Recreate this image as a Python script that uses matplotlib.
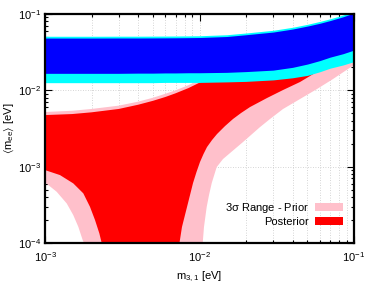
import matplotlib
matplotlib.use('Agg')
import matplotlib.pyplot as plt
from matplotlib.patches import Patch

plt.rcParams['font.family'] = ['Liberation Sans', 'DejaVu Sans']
plt.rcParams['mathtext.default'] = 'regular'

# lightest mass grid [eV]
m_grid = [1e-3, 1.5e-3, 2e-3, 3e-3, 4e-3, 5e-3, 6e-3, 7e-3, 8.5e-3, 1e-2,
          1.5e-2, 2e-2, 3e-2, 4e-2, 5e-2, 6e-2, 7e-2, 8.5e-2, 1e-1]

# inverted ordering bands
io_prior_top = [0.0511, 0.0511, 0.0511, 0.0512, 0.0512, 0.0513, 0.0514, 0.0515, 0.0517, 0.0519,
                0.0535, 0.0564, 0.0612, 0.067, 0.0733, 0.0799, 0.0865, 0.097, 0.109]
io_prior_bottom = [0.0126, 0.0126, 0.0126, 0.0126, 0.0126, 0.0126, 0.0127, 0.0127, 0.0127, 0.0127,
                   0.0129, 0.0131, 0.0137, 0.0146, 0.0157, 0.0175, 0.0195, 0.0215, 0.0238]
io_post_top = [0.0484, 0.0484, 0.0484, 0.0485, 0.0485, 0.0486, 0.0487, 0.0488, 0.049, 0.0492,
               0.0507, 0.0535, 0.058, 0.0635, 0.0695, 0.0755, 0.082, 0.092, 0.103]
io_post_bottom = [0.0167, 0.0167, 0.0167, 0.0167, 0.0168, 0.0168, 0.0169, 0.0169, 0.0170, 0.0170,
                  0.0172, 0.0176, 0.0184, 0.0200, 0.0221, 0.0245, 0.0272, 0.0302, 0.0337]

# normal ordering bands: upper edges on m_grid
no_prior_top = [0.0052, 0.0054, 0.0057, 0.0063, 0.0071, 0.0080, 0.0090, 0.0100, 0.0117, 0.0137,
                0.019, 0.024, 0.034, 0.043, 0.053, 0.063, 0.073, 0.088, 0.103]
no_post_top = [0.00474, 0.00489, 0.00515, 0.0057, 0.00647, 0.00729, 0.00817, 0.00914, 0.01072, 0.0126,
               0.0175, 0.022, 0.031, 0.040, 0.049, 0.058, 0.068, 0.082, 0.097]

# normal ordering lower edges (left and right of the cancellation hole)
no_prior_left_m = [1e-3, 1.19e-3, 1.382e-3, 1.524e-3, 1.643e-3, 1.754e-3, 1.79e-3, 1.80e-3]
no_prior_left = [6.23e-4, 4.69e-4, 3.30e-4, 2.32e-4, 1.63e-4, 1.09e-4, 1.0e-4, 8e-5]
no_post_left_m = [1e-3, 1.25e-3, 1.524e-3, 1.77e-3, 1.955e-3, 2.107e-3, 2.247e-3, 2.328e-3, 2.36e-3]
no_post_left = [9.02e-4, 7.76e-4, 6.04e-4, 4.47e-4, 2.98e-4, 2.0e-4, 1.34e-4, 1.0e-4, 8e-5]

no_prior_right_m = [1.046e-2, 1.049e-2, 1.069e-2, 1.113e-2, 1.152e-2, 1.2e-2, 1.292e-2, 1.419e-2,
                    1.576e-2, 1.912e-2, 2.464e-2, 2.86e-2, 3.471e-2, 4.471e-2, 5.76e-2, 7.31e-2, 0.1]
no_prior_right = [8e-5, 1e-4, 1.62e-4, 2.96e-4, 4.24e-4, 6.1e-4, 9.88e-4, 1.258e-3,
                  1.508e-3, 2.101e-3, 3.30e-3, 4.21e-3, 5.69e-3, 7.69e-3, 1.04e-2, 1.406e-2, 2.146e-2]
no_post_right_m = [7.38e-3, 7.42e-3, 7.70e-3, 8.30e-3, 8.68e-3, 9.08e-3, 9.56e-3, 1.007e-2, 1.061e-2,
                   1.118e-2, 1.205e-2, 1.298e-2, 1.462e-2, 1.647e-2, 1.856e-2, 2.123e-2, 2.734e-2,
                   3.471e-2, 4.471e-2, 5.59e-2, 6.99e-2, 0.1]
no_post_right = [8e-5, 1e-4, 1.62e-4, 2.96e-4, 4.24e-4, 6.1e-4, 8.5e-4, 1.149e-3, 1.462e-3,
                 1.806e-3, 2.232e-3, 2.675e-3, 3.40e-3, 4.21e-3, 5.04e-3, 6.04e-3, 7.93e-3,
                 1.009e-2, 1.285e-2, 1.685e-2, 2.28e-2, 3.18e-2]

PINK = '#ffc0cb'
RED = '#ff0000'
CYAN = '#00ffff'
BLUE = '#0000ff'


def no_band(top, right_m, right, left_m, left):
    xs = m_grid + right_m[::-1] + left_m[::-1]
    ys = top + right[::-1] + left[::-1]
    return xs, ys


fig = plt.figure(figsize=(3.74, 2.93), dpi=100)
ax = fig.add_axes([45 / 374, 50 / 293, 309 / 374, 229 / 293])
ax.set_xscale('log')
ax.set_yscale('log')

xs, ys = no_band(no_prior_top, no_prior_right_m, no_prior_right, no_prior_left_m, no_prior_left)
ax.fill(xs, ys, color=PINK, lw=0, zorder=2)
xs, ys = no_band(no_post_top, no_post_right_m, no_post_right, no_post_left_m, no_post_left)
ax.fill(xs, ys, color=RED, lw=0, zorder=3)

ax.fill_between(m_grid, io_prior_bottom, io_prior_top, color=CYAN, lw=0, zorder=4)
ax.fill_between(m_grid, io_post_bottom, io_post_top, color=BLUE, lw=0, zorder=5)

ax.set_xlim(1e-3, 1e-1)
ax.set_ylim(1e-4, 1e-1)

ax.set_axisbelow(True)
ax.grid(True, which='major', color='#c8c8c8', ls=(0, (1, 2)), lw=0.6)
ax.grid(True, which='minor', axis='x', color='#c8c8c8', ls=(0, (1, 2)), lw=0.6)

ax.tick_params(which='both', direction='in', top=True, right=True, labelsize=8, width=0.8)
ax.tick_params(which='major', length=5)
ax.tick_params(which='minor', length=2.5)
ax.tick_params(axis='x', pad=5)
ax.tick_params(axis='y', pad=3)
for s in ax.spines.values():
    s.set_linewidth(1.6)
    s.set_zorder(10)

ax.set_xlabel(r'm$_{3,1}$ [eV]', fontsize=8, labelpad=4)
ax.set_ylabel(r'$\langle$m$_{ee}\rangle$ [eV]', fontsize=8, labelpad=1)

handles = [Patch(facecolor=PINK, edgecolor='none'), Patch(facecolor=RED, edgecolor='none')]
leg = ax.legend(handles, [r'3$\sigma$ Range - Prior', 'Posterior'], loc='lower right',
                bbox_to_anchor=(0.964, 0.07), borderaxespad=0, borderpad=0,
                frameon=False, fontsize=8, markerfirst=False, handlelength=2.5,
                handleheight=0.7, handletextpad=0.55, labelspacing=0.2)
leg.set_zorder(11)

fig.savefig('out.png', dpi=100)
